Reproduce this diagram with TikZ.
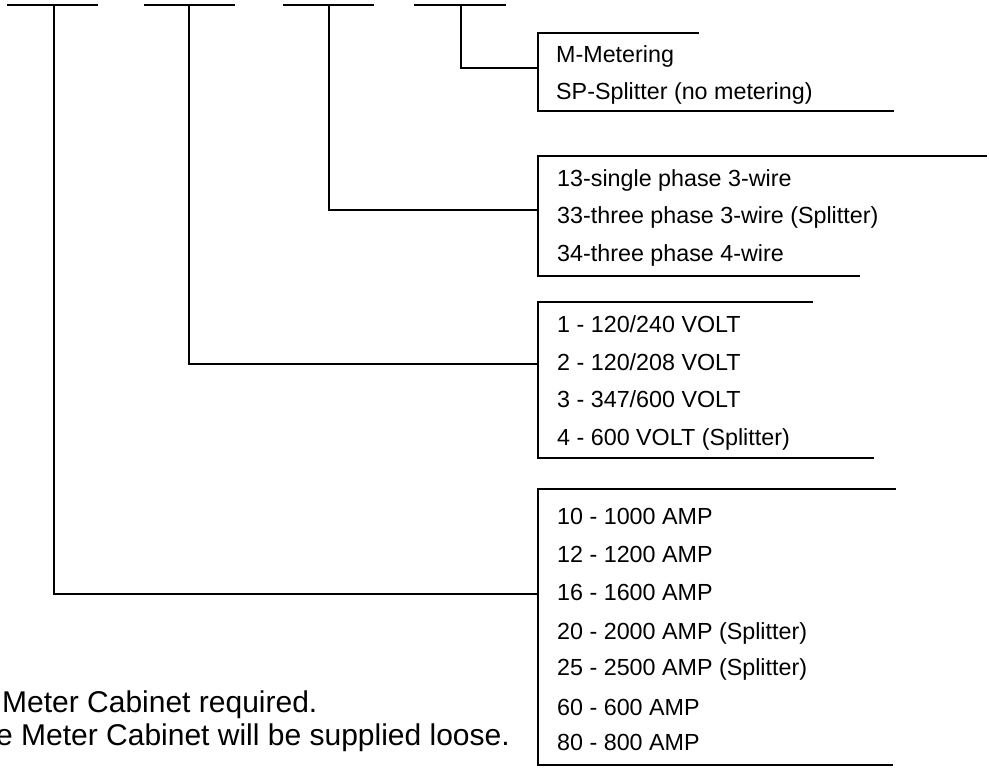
\documentclass[tikz,border=0pt]{standalone}
\usepackage{fontspec}
\setmainfont{Liberation Sans}
\begin{document}
\begin{tikzpicture}[x=1pt,y=-1pt,
    wire/.style={line width=2.8pt},
    item/.style={anchor=base west, inner sep=0pt, font=\fontsize{23.3}{28}\selectfont},
    note/.style={inner sep=0pt, font=\fontsize{30}{36}\selectfont}]
  \useasboundingbox (0,0) rectangle (989,772);
  % code bars
  \foreach \a/\b/\m [count=\i] in {7/98/54, 144/235/189, 283/374/329, 414/506/461} {
    \draw[wire] (\a,5) -- (\b,5);
    \coordinate (bar\i) at (\m,5);
  }
  % brackets
  \draw[wire] (699,33) -- (538,33) -- (538,111) -- (894,111);
  \draw[wire] (987,156) -- (538,156) -- (538,276) -- (860,276);
  \draw[wire] (813,302) -- (538,302) -- (538,458) -- (874,458);
  \draw[wire] (896,489) -- (538,489) -- (538,765) -- (893,765);
  \coordinate (br1) at (538,68);
  \coordinate (br2) at (538,210);
  \coordinate (br3) at (538,364);
  \coordinate (br4) at (538,594);
  % connectors
  \draw[wire] (bar4) |- (br1);
  \draw[wire] (bar3) |- (br2);
  \draw[wire] (bar2) |- (br3);
  \draw[wire] (bar1) |- (br4);
  % type
  \node[item] (m1) at (556,62) {M-Metering};
  \node[item] (m2) at (556,99) {SP-Splitter (no metering)};
  % phase
  \foreach \y/\t [count=\i] in {186/{13-single phase 3-wire},
      223/{33-three phase 3-wire (Splitter)}, 261/{34-three phase 4-wire}} {
    \node[item] (ph\i) at (557,\y) {\t};
  }
  % voltage
  \foreach \y/\t [count=\i] in {332/{1 - 120/240 VOLT}, 370/{2 - 120/208 VOLT},
      407/{3 - 347/600 VOLT}, 445/{4 - 600 VOLT (Splitter)}} {
    \node[item] (v\i) at (557,\y) {\t};
  }
  % ampacity
  \foreach \y/\t [count=\i] in {524/{10 - 1000 AMP}, 562/{12 - 1200 AMP},
      600/{16 - 1600 AMP}, 639/{20 - 2000 AMP (Splitter)},
      675/{25 - 2500 AMP (Splitter)}, 715/{60 - 600 AMP}, 750/{80 - 800 AMP}} {
    \node[item] (a\i) at (557,\y) {\t};
  }
  % notes
  \node[note, anchor=base west] (n1) at (2,712) {Meter Cabinet required.};
  \node[note, anchor=base east] (n2) at (510,745) {e Meter Cabinet will be supplied loose.};
\end{tikzpicture}
\end{document}
